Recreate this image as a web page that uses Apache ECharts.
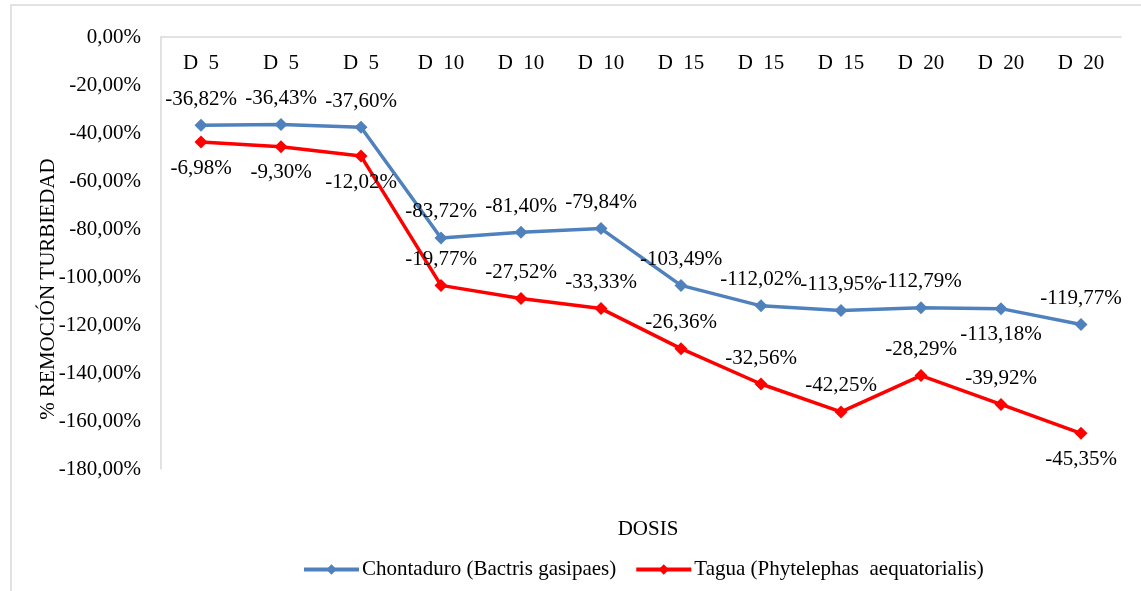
<!DOCTYPE html>
<html>
<head>
<meta charset="utf-8">
<script src="https://cdn.jsdelivr.net/npm/echarts@6/dist/echarts.min.js"></script>
<style>
  html, body { margin: 0; padding: 0; background: #fff; }
  #chart { width: 1141px; height: 591px; }
</style>
</head>
<body>
<div id="chart"></div>
<script>
// categorías del eje (dosis)
const categories = ['D  5', 'D  5', 'D  5', 'D  10', 'D  10', 'D  10', 'D  15', 'D  15', 'D  15', 'D  20', 'D  20', 'D  20'];
// % remoción turbiedad
const chontaduro = [-36.82, -36.43, -37.60, -83.72, -81.40, -79.84, -103.49, -112.02, -113.95, -112.79, -113.18, -119.77];
const tagua = [-6.98, -9.30, -12.02, -19.77, -27.52, -33.33, -26.36, -32.56, -42.25, -28.29, -39.92, -45.35];
// lado de la etiqueta de cada punto
const chontaduroLabelSide = ['top', 'top', 'top', 'top', 'top', 'top', 'top', 'top', 'top', 'top', 'bottom', 'top'];
const taguaLabelSide = ['bottom', 'bottom', 'bottom', 'top', 'top', 'top', 'top', 'top', 'top', 'top', 'top', 'bottom'];
const yTicks = { min: -180, max: 0, interval: 20 };

const FONT = '"Liberation Serif", "Times New Roman", serif';
const FS = 21;
const pct = v => v.toFixed(2).replace('.', ',') + '%';

function withLabels(values, sides) {
  return values.map((v, i) => ({
    value: v,
    label: { position: sides[i] }
  }));
}

function lineSeries(name, color, values, sides) {
  return {
    name: name,
    type: 'line',
    stack: 'total',
    symbol: 'diamond',
    symbolSize: 13,
    itemStyle: { color: color },
    lineStyle: { color: color, width: 3.5 },
    label: {
      show: true,
      distance: 9,
      color: '#000',
      fontFamily: FONT,
      fontSize: FS,
      formatter: p => pct(p.value)
    },
    data: withLabels(values, sides)
  };
}

const chart = echarts.init(document.getElementById('chart'));
chart.setOption({
  animation: false,
  textStyle: { fontFamily: FONT },
  title: {
    text: 'DOSIS',
    left: 643,
    top: 514,
    textAlign: 'center',
    textStyle: { fontFamily: FONT, fontSize: FS, fontWeight: 'normal', color: '#000' }
  },
  legend: {
    left: 297,
    top: 554,
    itemWidth: 55,
    itemHeight: 13,
    itemGap: 18,
    lineStyle: { width: 4 },
    textStyle: { fontFamily: FONT, fontSize: FS, color: '#000', padding: [0, 0, 0, -2] },
    data: ['Chontaduro (Bactris gasipaes)', 'Tagua (Phytelephas  aequatorialis)']
  },
  grid: { left: 161, right: 20, top: 37, bottom: 122, containLabel: false },
  xAxis: {
    type: 'category',
    position: 'top',
    data: categories,
    boundaryGap: true,
    axisLine: { onZero: false, lineStyle: { color: '#D9D9D9', width: 1.5 } },
    axisTick: { show: false },
    axisLabel: { inside: true, margin: 16, color: '#000', fontFamily: FONT, fontSize: FS }
  },
  yAxis: {
    type: 'value',
    min: yTicks.min,
    max: yTicks.max,
    interval: yTicks.interval,
    name: '% REMOCIÓN TURBIEDAD',
    nameLocation: 'middle',
    nameGap: 102,
    nameMoveOverlap: false,
    nameRotate: 90,
    nameTextStyle: { color: '#000', fontFamily: FONT, fontSize: FS, padding: [0, 72, 0, 0] },
    axisLine: { show: true, lineStyle: { color: '#D9D9D9', width: 1.5 } },
    axisTick: { show: false },
    splitLine: { show: false },
    axisLabel: { margin: 20, color: '#000', fontFamily: FONT, fontSize: FS, formatter: v => pct(v) }
  },
  graphic: [{
    type: 'rect',
    silent: true,
    shape: { x: 11, y: 5, width: 1300, height: 700 },
    style: { fill: 'none', stroke: '#D9D9D9', lineWidth: 1.5 }
  }],
  series: [
    lineSeries('Chontaduro (Bactris gasipaes)', '#4F81BD', chontaduro, chontaduroLabelSide),
    lineSeries('Tagua (Phytelephas  aequatorialis)', '#FF0000', tagua, taguaLabelSide)
  ]
});
</script>
</body>
</html>
